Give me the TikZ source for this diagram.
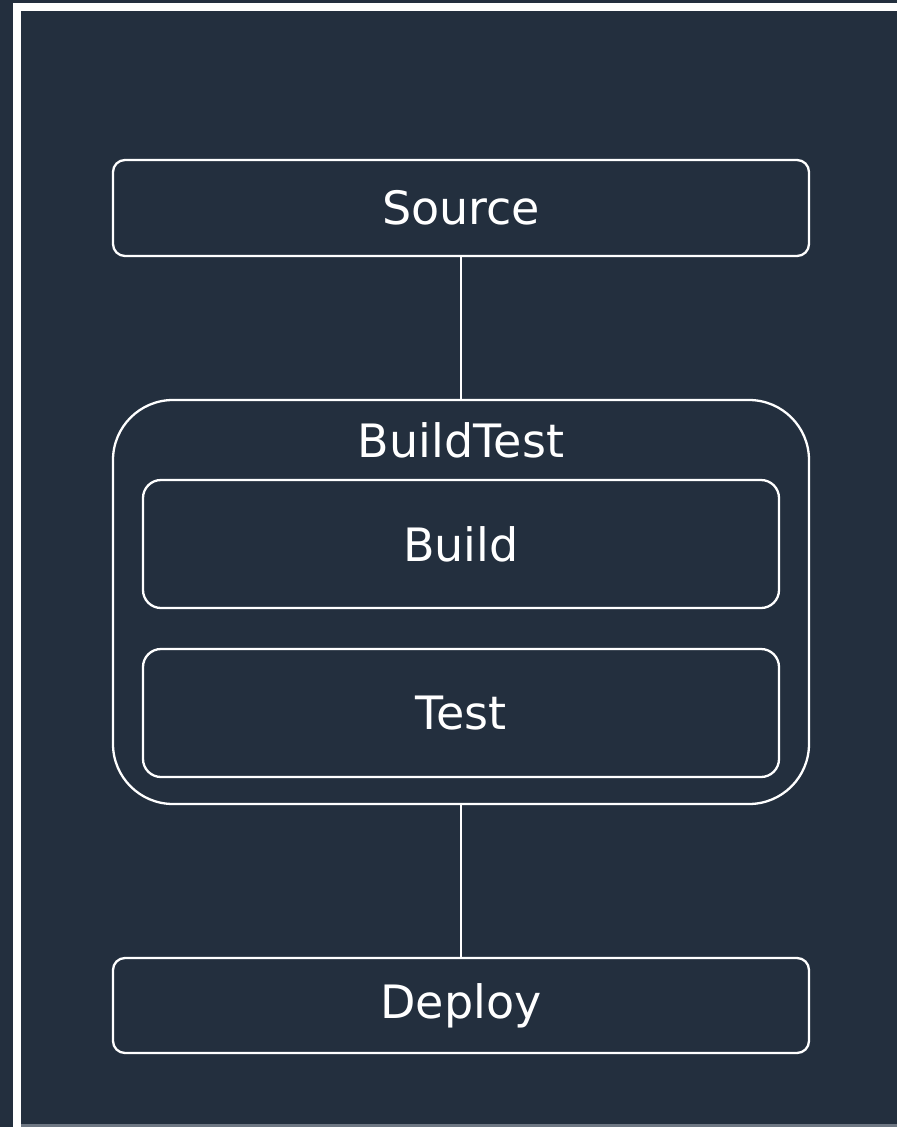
\documentclass[tikz,border=0pt]{standalone}
\usepackage{fontspec}
\setmainfont{DejaVu Sans}
\usepackage{xcolor}
\usepackage{tikz}
\usetikzlibrary{positioning}
\definecolor{squidink}{HTML}{232F3E}
\definecolor{edgegrey}{HTML}{6E7783}
\tikzset{
  lbl/.style={font=\fontsize{46}{54}\selectfont, text=white, inner sep=0pt},
  stagebox/.style={draw=white, line width=2.3pt, rounded corners=12pt, minimum width=696pt,
                   font=\fontsize{46}{54}\selectfont, text=white, inner sep=0pt},
  innerbox/.style={draw=white, line width=2.3pt, rounded corners=18pt, minimum width=636pt,
                   minimum height=128pt, font=\fontsize{46}{54}\selectfont, text=white, inner sep=0pt},
  link/.style={draw=white, line width=2.3pt},
}
\begin{document}
\begin{tikzpicture}[x=1pt, y=-1pt,
  groupbox/.style={draw=white, line width=2.3pt, rounded corners=60pt, minimum width=696pt, minimum height=404pt}]
  \useasboundingbox (0,0) rectangle (897,1127);
  % frame
  \fill[squidink] (0,0) rectangle (897,1127);
  \fill[white] (13,3) rectangle (897,1127);
  \fill[squidink] (21,11) rectangle (897,1124);
  \fill[edgegrey] (21,1123.5) rectangle (897,1127);
  % stages
  \node[stagebox, minimum height=96pt] (source) at (461,208) {Source};
  \node[groupbox] (buildtest) at (461,602) {};
  \node[lbl] (btlabel) at (461,440) {BuildTest};
  \node[innerbox] (build) at (461,544) {Build};
  \node[innerbox] (test) at (461,713) {Test};
  \node[stagebox, minimum height=95pt] (deploy) at (461,1005.5) {Deploy};
  \draw[link] (source) -- (buildtest);
  \draw[link] (buildtest) -- (deploy);
\end{tikzpicture}
\end{document}
